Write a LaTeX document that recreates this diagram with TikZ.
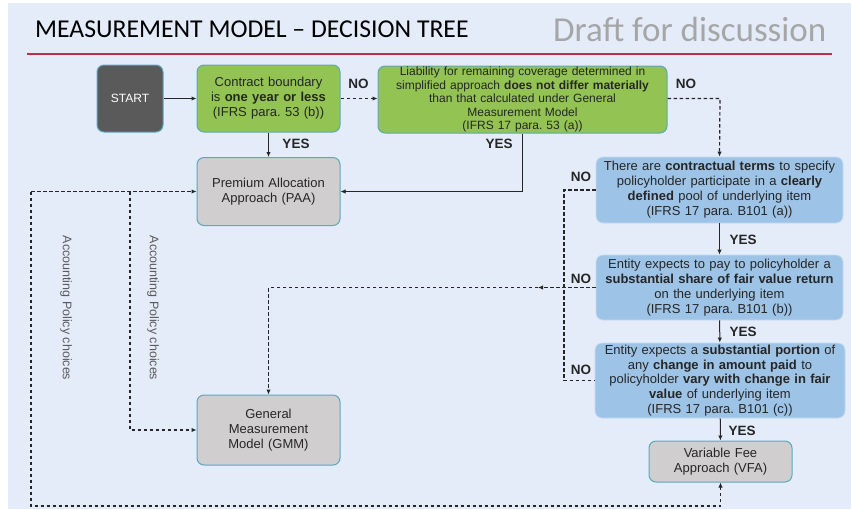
\documentclass[tikz,border=0pt]{standalone}
\definecolor{ifrsbg}{HTML}{E4ECFA}
\definecolor{ifrsgreen}{HTML}{92C353}
\definecolor{ifrsblue}{HTML}{9DC3E6}
\definecolor{ifrsgray}{HTML}{D0CECE}
\definecolor{ifrsteal}{HTML}{5AA9BE}
\definecolor{ifrsstart}{HTML}{5A5A5A}
\definecolor{ifrsred}{HTML}{BE3049}
\definecolor{ifrsdark}{HTML}{262626}
\usepackage{fontspec}
\setmainfont{Liberation Sans}
\newfontfamily\titlefont{Carlito}
\usepackage{xcolor}
\usepackage{tikz}
\usetikzlibrary{arrows.meta, positioning, calc}
\frenchspacing

\begin{document}
\begin{tikzpicture}[x=1pt, y=-1pt,
    box/.style={rounded corners=7pt, draw=ifrsteal, line width=1pt, align=center,
      inner sep=2pt, text=ifrsdark, font=\fontsize{13}{15}\selectfont},
    greenbox/.style={box, fill=ifrsgreen},
    graybox/.style={box, fill=ifrsgray},
    bluebox/.style={box, fill=ifrsblue, draw=ifrsblue!60!white, line width=0.8pt},
    ans/.style={font=\bfseries\fontsize{13.5}{15}\selectfont, text=ifrsdark, inner sep=0pt},
    yesline/.style={-{Latex[length=5pt,width=4.5pt]}, line width=1pt, draw=ifrsdark},
    noline/.style={dash pattern=on 3.5pt off 2.5pt, line width=1.2pt, draw=ifrsdark},
    choice/.style={rotate=-90, text=ifrsstart, font=\fontsize{12.5}{14}\selectfont}]
    % Background and heading
    \useasboundingbox (0,0) rectangle (851,509);
    \fill[white] (0,0) rectangle (851,509);
    \fill[ifrsbg] (8,3) rectangle (851,509);
    \node[anchor=base west, inner sep=0pt, font=\titlefont\fontsize{25.7}{28}\selectfont]
      (title) at (35,37) {MEASUREMENT MODEL – DECISION TREE};
    \node[anchor=base west, inner sep=0pt, text=black!35, font=\titlefont\fontsize{35}{38}\selectfont]
      (draft) at (553,41) {Draft for discussion};
    \draw[ifrsred, line width=2pt] (27,54) -- (832,54);
    % First row
    \node[box, fill=ifrsstart, text=white, font=\fontsize{12}{14}\selectfont,
      minimum width=66pt, minimum height=67pt] (start) at (130,98.5) {START};
    \node[greenbox, text width=139pt, minimum height=67pt] (contract) at (268.5,98.5)
      {Contract boundary\\ is \textbf{one year or less}\\ (IFRS para. 53 (b))};
    \node[greenbox, text width=285pt, minimum height=67pt, inner ysep=0pt,
      font=\fontsize{12}{13.4}\selectfont] (liab) at (522.5,99.5)
      {Liability for remaining coverage determined in\\ simplified approach \textbf{does not differ materially}\\
       than that calculated under General\\ Measurement Model\\ (IFRS 17 para. 53 (a))};
    % Outcomes
    \node[graybox, text width=139pt, minimum height=68pt] (paa) at (268.5,191.5)
      {Premium Allocation\\ Approach (PAA)};
    \node[graybox, text width=139pt, minimum height=70pt] (gmm) at (268.5,430)
      {General\\ Measurement\\ Model (GMM)};
    \node[graybox, text width=139pt, minimum height=41pt, inner ysep=0pt] (vfa) at (720.5,461.5)
      {Variable Fee\\ Approach (VFA)};
    % VFA tests
    \node[bluebox, text width=243pt, minimum height=66pt] (terms) at (719.5,190)
      {There are \textbf{contractual terms} to specify\\ policyholder participate in a \textbf{clearly}\\
       \textbf{defined} pool of underlying item\\ (IFRS 17 para. B101 (a))};
    \node[bluebox, text width=243pt, minimum height=65pt] (share) at (719.5,287.5)
      {Entity expects to pay to policyholder a\\ \textbf{substantial share of fair value return}\\
       on the underlying item\\ (IFRS 17 para. B101 (b))};
    \node[bluebox, text width=246pt, minimum height=75pt, inner ysep=0pt,
      font=\fontsize{13}{14.6}\selectfont] (portion) at (720,380.5)
      {Entity expects a \textbf{substantial portion} of\\ any \textbf{change in amount paid} to\\
       policyholder \textbf{vary with change in fair}\\ \textbf{value} of underlying item\\ (IFRS 17 para. B101 (c))};
    % Solid YES paths
    \draw[yesline] (start) -- (contract);
    \draw[yesline] (contract) -- (paa);
    \draw[yesline] (liab.south) |- (paa.east);
    \draw[yesline] (terms) -- (share);
    \draw[yesline] (share) -- (portion);
    \draw[yesline] (portion) -- (vfa);
    % Dashed NO paths
    \coordinate (turn) at (720,98.5);
    \coordinate (nojoin) at (564,190);
    \coordinate (midtip) at (538,287.5);
    \draw[noline, -{Latex[length=5pt,width=4.5pt]}] (contract) -- (liab.west |- contract);
    \draw[noline, -{Latex[length=5pt,width=4.5pt]}] (liab.east |- turn) -- (turn) -- (terms.north);
    \draw[noline] (terms.west) -- (nojoin) |- (portion.west);
    \draw[noline, -{Latex[length=5pt,width=4.5pt]}] (share.west) -- (midtip);
    \draw[noline, -{Latex[length=5pt,width=4.5pt]}] (midtip) -| (gmm.north);
    % Accounting policy choices
    \coordinate (outer) at (31,191.5);
    \coordinate (outerbot) at (31,506);
    \coordinate (inner) at (130,191.5);
    \draw[noline, -{Latex[length=5pt,width=4.5pt]}] (outer) -- (paa.west);
    \draw[noline, -{Latex[length=5pt,width=4.5pt]}] (outer) -- (outerbot) -| (vfa.south);
    \draw[noline, -{Latex[length=5pt,width=4.5pt]}] (inner) |- (gmm.west);
    \node[choice] (choiceA) at (66,308) {Accounting Policy choices};
    \node[choice] (choiceB) at (153,308) {Accounting Policy choices};
    % Answer labels
    \node[ans] (no1) at (358.5,84) {NO};
    \node[ans] (no2) at (686,84) {NO};
    \node[ans] (yes1) at (296,143.5) {YES};
    \node[ans] (yes2) at (499,143.5) {YES};
    \node[ans] (no3) at (581,177) {NO};
    \node[ans] (no4) at (581,278.5) {NO};
    \node[ans] (no5) at (581,370) {NO};
    \node[ans] (yes3) at (743,239.5) {YES};
    \node[ans] (yes4) at (743,332) {YES};
    \node[ans] (yes5) at (742,431) {YES};
\end{tikzpicture}
\end{document}
